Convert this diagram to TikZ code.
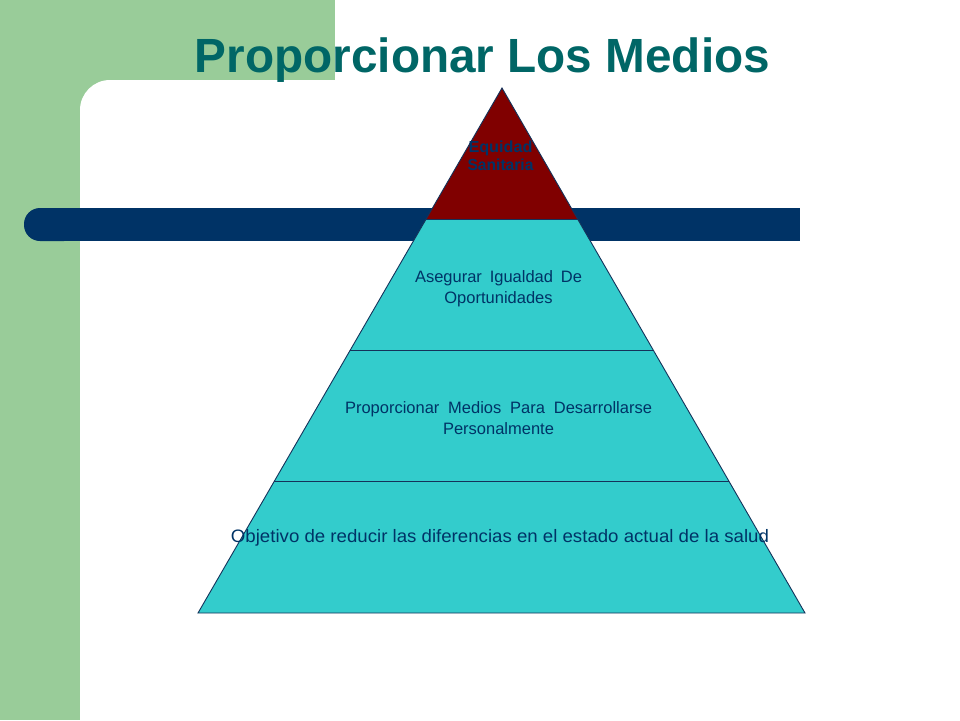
\documentclass[tikz,border=0pt]{standalone}
\usepackage{fontspec}
\setmainfont{Liberation Sans}
\usetikzlibrary{calc}
\definecolor{sage}{RGB}{153,204,153}
\definecolor{navybar}{RGB}{0,51,102}
\definecolor{titleteal}{RGB}{0,102,102}
\definecolor{layercyan}{RGB}{51,204,204}
\definecolor{topred}{RGB}{128,0,0}
\definecolor{edgenavy}{RGB}{20,50,90}
\begin{document}
\begin{tikzpicture}[x=1pt,y=-1pt,
  edge/.style={draw=edgenavy,line width=0.9pt,line join=miter},
  layertext/.style={text=navybar,inner sep=0pt,align=center,font=\fontsize{16.5}{21}\selectfont},
  toptext/.style={text=navybar,inner sep=0pt,align=center,font=\fontsize{16}{18}\selectfont\bfseries}]
\useasboundingbox (0,0) rectangle (960,720);
% background
\fill[white] (0,0) rectangle (960,720);
\fill[sage] (0,0) rectangle (335,80);
\fill[sage] (0,0) rectangle (130,130);
\fill[sage] (0,0) rectangle (80,720);
\fill[white,rounded corners=30pt] (80,80) rectangle (420,800);
% title
\node[anchor=base,inner sep=0pt,text=titleteal,font=\fontsize{48}{50}\selectfont\bfseries] (title) at (482.5,72)
  {\resizebox{575pt}{\height}{Proporcionar Los Medios}};
% navy bar
\fill[navybar,rounded corners=16pt] (24,208) rectangle (80,241);
\fill[navybar] (50,208) rectangle (800,241);
% pyramid
\coordinate (A) at (502,88);
\coordinate (BL) at (198,613);
\coordinate (BR) at (805,613);
\coordinate (L1) at ($(A)!0.25!(BL)$);
\coordinate (R1) at ($(A)!0.25!(BR)$);
\coordinate (L2) at ($(A)!0.5!(BL)$);
\coordinate (R2) at ($(A)!0.5!(BR)$);
\coordinate (L3) at ($(A)!0.75!(BL)$);
\coordinate (R3) at ($(A)!0.75!(BR)$);
\fill[layercyan] (L1) -- (R1) -- (BR) -- (BL) -- cycle;
\fill[topred] (A) -- (L1) -- (R1) -- cycle;
\draw[edge] (A) -- (BL) -- (BR) -- cycle;
\draw[edge] (L1) -- (R1);
\draw[edge] (L2) -- (R2);
\draw[edge] (L3) -- (R3);
% texts
\node[toptext] (equidad) at (500.5,155.5) {\resizebox{64pt}{\height}{Equidad}\\\resizebox{66pt}{\height}{Sanitaria}};
\node[layertext] (asegurar) at (498.5,288.5) {\makebox[167pt][s]{Asegurar Igualdad De}\\Oportunidades};
\node[layertext] (medios) at (498.5,418) {\makebox[307pt][s]{Proporcionar Medios Para Desarrollarse}\\Personalmente};
\node[anchor=base,inner sep=0pt,text=navybar,font=\fontsize{18}{20}\selectfont] (objetivo) at (500,542)
  {\resizebox{538pt}{\height}{Objetivo de reducir las diferencias en el estado actual de la salud}};
\end{tikzpicture}
\end{document}
